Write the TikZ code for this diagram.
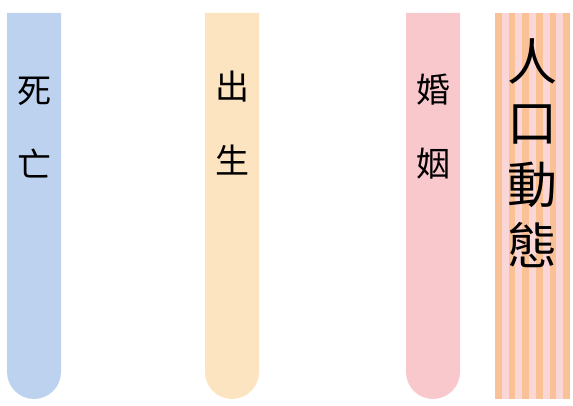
\documentclass[tikz,border=0pt]{standalone}
\usepackage{fontspec}
\newfontfamily\cjk{Noto Sans CJK TC}
\definecolor{deathblue}{RGB}{188, 210, 238}
\definecolor{birthorange}{RGB}{253, 228, 193}
\definecolor{marriagepink}{RGB}{249, 200, 205}
\definecolor{stripeorange}{RGB}{250, 193, 150}
\definecolor{stripepink}{RGB}{251, 214, 214}
\tikzset{
    bartext/.style={font=\cjk\fontsize{34}{74}\selectfont, align=center,
        inner sep=0pt},
    bigtext/.style={font=\cjk\fontsize{50}{61.5}\selectfont, align=center,
        inner sep=0pt}
}

\begin{document}
\begin{tikzpicture}[x=1pt, y=1pt]
    \useasboundingbox (0, 0) rectangle (573, 406);
    \foreach \x/\col in {7/deathblue, 205/birthorange, 406/marriagepink}
        \fill[\col] (\x, 393) -- ++(54, 0) -- ++(0, -359)
            arc[start angle=0, end angle=-180, radius=27pt] -- cycle;
    \fill[stripepink] (495, 7) rectangle (570, 393);
    \foreach \i in {0, ..., 5}
        \fill[stripeorange] ({495 + \i * 13.636}, 7) rectangle ++(6.818, 386);

    \node[bartext] (death) at (34, 278) {死\\亡};
    \node[bartext] (birth) at (232, 283) {出\\生};
    \node[bartext] (marriage) at (433, 279.5) {婚\\姻};
    \node[bigtext] (population) at (532.5, 253) {人\\口\\動\\態};
\end{tikzpicture}
\end{document}
